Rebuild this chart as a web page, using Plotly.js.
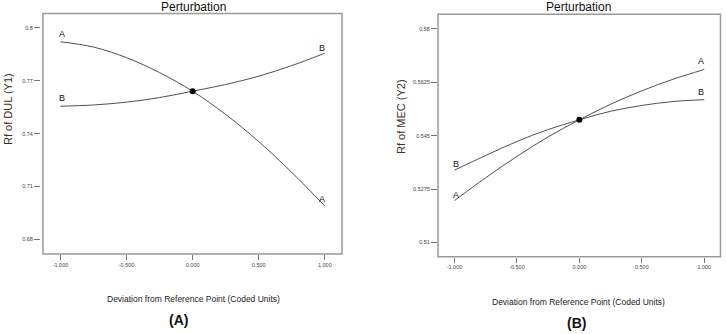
<!DOCTYPE html>
<html><head><meta charset="utf-8">
<script src="https://cdn.plot.ly/plotly-3.0.1.min.js"></script>
<style>html,body{margin:0;padding:0;background:#fff}#chart{width:726px;height:334px}</style>
</head><body><div id="chart"></div>
<script>
// Coded deviation levels
const xLevels = [-1, -0.75, -0.5, -0.25, 0, 0.25, 0.5, 0.75, 1];
// Panel A: Rf of DUL (Y1)
const dulA = [0.792, 0.789, 0.783, 0.7745, 0.764, 0.7508, 0.7355, 0.718, 0.699];
const dulB = [0.7555, 0.7562, 0.7578, 0.7604, 0.764, 0.7678, 0.7725, 0.7785, 0.7855];
// Panel B: Rf of MEC (Y2)
const mecA = [0.5237, 0.5312, 0.5382, 0.5446, 0.5502, 0.5553, 0.5597, 0.5635, 0.5667];
const mecB = [0.5337, 0.5385, 0.5431, 0.5470, 0.5502, 0.5530, 0.5549, 0.5562, 0.5568];
// Reference point
const refX = [0];
const refDUL = [0.764];
const refMEC = [0.5502];
// Tick labels
const xTickVals = [-1, -0.5, 0, 0.5, 1];
const xTickText = ["-1.000", "-0.500", "0.000", "0.500", "1.000"];
const yTickValsA = [0.68, 0.71, 0.74, 0.77, 0.8];
const yTickTextA = ["0.68", "0.71", "0.74", "0.77", "0.8"];
const yTickValsB = [0.51, 0.5275, 0.545, 0.5625, 0.58];
const yTickTextB = ["0.51", "0.5275", "0.545", "0.5625", "0.58"];

const FONT = "Liberation Sans, Arial, sans-serif";
const lineStyle = {color: "#505050", width: 1, shape: "spline"};

const traces = [
  {x: xLevels, y: dulA, xaxis: "x", yaxis: "y", mode: "lines", line: lineStyle, hoverinfo: "skip"},
  {x: xLevels, y: dulB, xaxis: "x", yaxis: "y", mode: "lines", line: lineStyle, hoverinfo: "skip"},
  {x: refX, y: refDUL, xaxis: "x", yaxis: "y", mode: "markers", marker: {color: "#000", size: 6}},
  {x: xLevels, y: mecA, xaxis: "x2", yaxis: "y2", mode: "lines", line: lineStyle, hoverinfo: "skip"},
  {x: xLevels, y: mecB, xaxis: "x2", yaxis: "y2", mode: "lines", line: lineStyle, hoverinfo: "skip"},
  {x: refX, y: refMEC, xaxis: "x2", yaxis: "y2", mode: "markers", marker: {color: "#000", size: 6}}
];

const tickFont = {family: FONT, size: 5.5, color: "#444"};
function xAxis(domain, anchor) {
  return {domain: domain, anchor: anchor, range: [-1.132, 1.13], tickvals: xTickVals, ticktext: xTickText,
    ticks: "outside", ticklen: 5, tickcolor: "#777", tickwidth: 1, showline: false, showgrid: false,
    zeroline: false, tickfont: tickFont, fixedrange: true};
}
function yAxis(domain, anchor, range, vals, text) {
  return {domain: domain, anchor: anchor, range: range, tickvals: vals, ticktext: text,
    ticks: "outside", ticklen: 6, tickcolor: "#777", tickwidth: 1, showline: false, showgrid: false,
    zeroline: false, tickfont: tickFont, fixedrange: true};
}

const W = 726, H = 334;
const px = v => v / W, py = v => 1 - v / H;

function endLabels(xref, yref, sA, sB, shifts) {
  const n = xLevels.length - 1;
  const f = {family: FONT, size: 9, color: "#111"};
  const mk = (x, y, t, xs, ys) => ({xref: xref, yref: yref, x: x, y: y, text: t, showarrow: false,
    font: f, xshift: xs, yshift: ys, yanchor: "bottom"});
  return [
    mk(xLevels[0], sA[0], "A", 2, shifts[0]),
    mk(xLevels[0], sB[0], "B", 2, shifts[1]),
    mk(xLevels[n], sA[n], "A", -3, shifts[2]),
    mk(xLevels[n], sB[n], "B", -3, shifts[3])
  ];
}

const annotations = [
  {xref: "paper", yref: "paper", x: px(193), y: py(7), text: "Perturbation", showarrow: false,
    font: {family: FONT, size: 12, color: "#111"}, xanchor: "center", yanchor: "middle"},
  {xref: "paper", yref: "paper", x: px(578), y: py(7), text: "Perturbation", showarrow: false,
    font: {family: FONT, size: 12, color: "#111"}, xanchor: "center", yanchor: "middle"},
  {xref: "paper", yref: "paper", x: px(8), y: py(109), text: "Rf of DUL (Y1)", showarrow: false, textangle: -90,
    font: {family: FONT, size: 11, color: "#3a3024"}, xanchor: "center", yanchor: "middle"},
  {xref: "paper", yref: "paper", x: px(401), y: py(117), text: "Rf of MEC (Y2)", showarrow: false, textangle: -90,
    font: {family: FONT, size: 11, color: "#3a3024"}, xanchor: "center", yanchor: "middle"},
  {xref: "paper", yref: "paper", x: px(193), y: py(299), text: "Deviation from Reference Point (Coded Units)", showarrow: false,
    font: {family: FONT, size: 8.5, color: "#222"}, xanchor: "center", yanchor: "middle"},
  {xref: "paper", yref: "paper", x: px(578), y: py(302), text: "Deviation from Reference Point (Coded Units)", showarrow: false,
    font: {family: FONT, size: 8.5, color: "#222"}, xanchor: "center", yanchor: "middle"},
  {xref: "paper", yref: "paper", x: px(178), y: py(320), text: "<b>(A)</b>", showarrow: false,
    font: {family: FONT, size: 14, color: "#111"}, xanchor: "center", yanchor: "middle"},
  {xref: "paper", yref: "paper", x: px(576), y: py(323), text: "<b>(B)</b>", showarrow: false,
    font: {family: FONT, size: 14, color: "#111"}, xanchor: "center", yanchor: "middle"}
].concat(endLabels("x", "y", dulA, dulB, [1, 1, 0, -2]))
 .concat(endLabels("x2", "y2", mecA, mecB, [-1, -1, 1, 1]));

const boxLine = {color: "#999", width: 1.5};
const shapes = [
  {type: "rect", xref: "x domain", yref: "y domain", x0: 0, x1: 1, y0: 0, y1: 1, line: boxLine},
  {type: "rect", xref: "x2 domain", yref: "y2 domain", x0: 0, x1: 1, y0: 0, y1: 1, line: boxLine}
];

const layout = {
  width: W, height: H, margin: {l: 0, r: 0, t: 0, b: 0}, showlegend: false,
  paper_bgcolor: "#fff", plot_bgcolor: "#fff", font: {family: FONT},
  xaxis: xAxis([px(43), px(342)], "y"),
  yaxis: Object.assign(yAxis([py(254), py(13.5)], "free", [0.6718, 0.808], yTickValsA, yTickTextA), {position: px(40)}),
  xaxis2: xAxis([px(438), px(720.5)], "y2"),
  yaxis2: yAxis([py(256.7), py(14.3)], "x2", [0.5053, 0.5848], yTickValsB, yTickTextB),
  annotations: annotations, shapes: shapes
};

Plotly.newPlot("chart", traces, layout, {staticPlot: true, displayModeBar: false});
</script></body></html>
